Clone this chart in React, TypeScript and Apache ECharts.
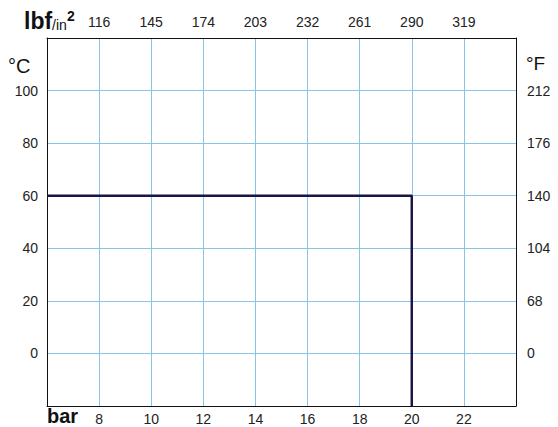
import React, { useEffect, useRef } from "react";
import * as echarts from "echarts";

// Pressure axis (bar) ticks and their lbf/in² equivalents
const barTicks = [8, 10, 12, 14, 16, 18, 20, 22];
const psiLabels = ["116", "145", "174", "203", "232", "261", "290", "319"];
// Temperature axis (°C) ticks and their °F labels
const celsiusTicks = [0, 20, 40, 60, 80, 100];
const fahrenheitLabels = ["0", "68", "104", "140", "176", "212"];
// Operating limit line (bar, °C)
const limitBar = [6, 20, 20];
const limitTemp = [60, 60, -20];

const FONT = "Liberation Sans, Arial, sans-serif";
const GRID = "#86c5e8";

export default function App() {
  const ref = useRef<HTMLDivElement>(null);
  useEffect(() => {
    document.body.style.margin = "0";
    if (!ref.current) return;
    const chart = echarts.init(ref.current, null, { renderer: "svg" });
    const barLabel = (v: number) => (barTicks.indexOf(v) >= 0 ? String(v) : "");
    const psiLabel = (v: number) => {
      const i = barTicks.indexOf(v);
      return i >= 0 ? psiLabels[i] : "";
    };
    const cLabel = (v: number) => (celsiusTicks.indexOf(v) >= 0 ? String(v) : "");
    const fLabel = (v: number) => {
      const i = celsiusTicks.indexOf(v);
      return i >= 0 ? fahrenheitLabels[i] : "";
    };
    const axisLine = { show: true, onZero: false, lineStyle: { color: "#111", width: 1 } };
    const labelStyle = { color: "#222", fontFamily: FONT, fontSize: 14 };
    chart.setOption({
      animation: false,
      backgroundColor: "#fff",
      grid: { left: 47, right: 42, top: 38, bottom: 21 },
      xAxis: [
        {
          type: "value",
          position: "bottom",
          min: 6,
          max: 24,
          interval: 2,
          axisLine,
          axisTick: { show: false },
          splitLine: { show: true, lineStyle: { color: GRID, width: 1 } },
          axisLabel: { ...labelStyle, margin: 6, formatter: barLabel },
        },
        {
          type: "value",
          position: "top",
          min: 6,
          max: 24,
          interval: 2,
          axisLine,
          axisTick: { show: false },
          splitLine: { show: false },
          axisLabel: { ...labelStyle, margin: 9, formatter: psiLabel },
        },
      ],
      yAxis: [
        {
          type: "value",
          position: "left",
          min: -20,
          max: 120,
          interval: 20,
          axisLine,
          axisTick: { show: false },
          splitLine: { show: true, lineStyle: { color: GRID, width: 1 } },
          axisLabel: { ...labelStyle, margin: 9, formatter: cLabel },
        },
        {
          type: "value",
          position: "right",
          min: -20,
          max: 120,
          interval: 20,
          axisLine,
          axisTick: { show: false },
          splitLine: { show: false },
          axisLabel: { ...labelStyle, margin: 11, formatter: fLabel },
        },
      ],
      series: [
        {
          type: "line",
          data: limitBar.map((b, i) => [b, limitTemp[i]]),
          symbol: "none",
          lineStyle: { color: "#1d1445", width: 2.5 },
          z: 5,
        },
      ],
      graphic: [
        {
          type: "text",
          left: 24,
          top: 9,
          style: {
            text: "{a|lbf}{b|/in}{c|2}",
            rich: {
              a: { fontSize: 23, fontWeight: "bold", fontFamily: FONT, fill: "#111", verticalAlign: "bottom" },
              b: { fontSize: 14, fontFamily: FONT, fill: "#111", verticalAlign: "bottom" },
              c: { fontSize: 14, fontWeight: "bold", fontFamily: FONT, fill: "#111", verticalAlign: "top" },
            },
          },
        },
        {
          type: "text",
          left: 8,
          top: 56,
          style: { text: "°C", fontSize: 20, fontFamily: FONT, fill: "#111" },
        },
        {
          type: "text",
          left: 526,
          top: 54,
          style: { text: "°F", fontSize: 19, fontFamily: FONT, fill: "#111" },
        },
        {
          type: "text",
          left: 47,
          top: 406,
          style: { text: "bar", fontSize: 20, fontWeight: "bold", fontFamily: FONT, fill: "#111" },
        },
      ],
    });
    return () => chart.dispose();
  }, []);
  return <div ref={ref} style={{ width: 558, height: 427 }} />;
}
